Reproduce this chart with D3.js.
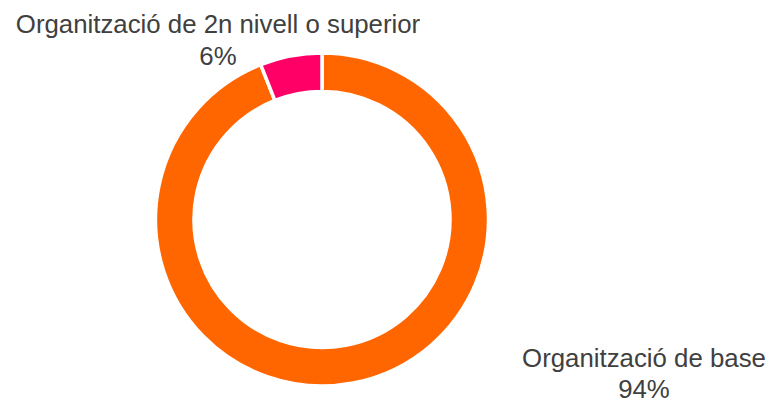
<!DOCTYPE html>
<html><head><meta charset="utf-8">
<script src="https://cdn.jsdelivr.net/npm/d3@7"></script>
<style>html,body{margin:0;padding:0;background:#fff;}svg{display:block;}
text{font-family:"Liberation Sans", Arial, Helvetica, sans-serif;}</style>
</head><body>
<script>
const categories = ["Organització de base", "Organització de 2n nivell o superior"];
const values = [94, 6];
const valueLabels = ["94%", "6%"];
const colors = ["#FF6600", "#FF0066"];

const W = 773, H = 401;
const cx = 322, cy = 219.5, rOuter = 166.5, rInner = 128;
const svg = d3.select("body").append("svg").attr("width", W).attr("height", H);

const pie = d3.pie().sort(null).value(d => d.v);
const data = categories.map((c, i) => ({c, v: values[i], lab: valueLabels[i], col: colors[i]}));
const arcs = pie(data);
const arc = d3.arc().innerRadius(rInner).outerRadius(rOuter);

const g = svg.append("g").attr("transform", `translate(${cx},${cy})`);
g.selectAll("path").data(arcs).enter().append("path")
  .attr("d", arc).attr("fill", d => d.data.col)
  .attr("stroke", "#fff").attr("stroke-width", 3.5).attr("stroke-linejoin", "miter");

const labelPos = [
  {x: 644, y1: 367, y2: 398},
  {x: 218, y1: 33, y2: 64.5}
];
const fs = 25.8;
arcs.forEach((a, i) => {
  const p = labelPos[i];
  const t = svg.append("text").attr("text-anchor", "middle")
    .attr("font-size", fs).attr("fill", "#404040");
  t.append("tspan").attr("x", p.x).attr("y", p.y1).text(a.data.c);
  t.append("tspan").attr("x", p.x).attr("y", p.y2).text(a.data.lab);
});
</script>
</body></html>
